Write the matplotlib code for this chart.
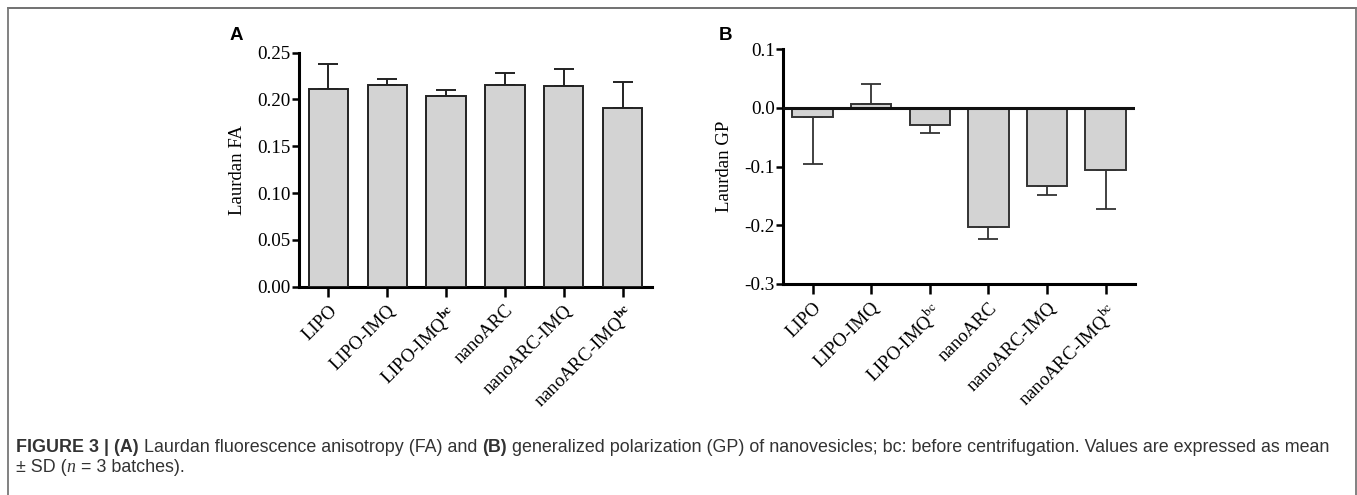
import numpy as np
import matplotlib
matplotlib.use('Agg')
import matplotlib.pyplot as plt
from matplotlib.lines import Line2D

plt.rcParams['font.family'] = ['Liberation Serif', 'DejaVu Serif']
plt.rcParams['mathtext.fontset'] = 'stix'
plt.rcParams['axes.unicode_minus'] = False

# data
groups_a = ['LIPO', 'LIPO-IMQ', r'LIPO-IMQ$^{\mathbf{bc}}$', 'nanoARC',
            'nanoARC-IMQ', r'nanoARC-IMQ$^{\mathbf{bc}}$']
groups_b = ['LIPO', 'LIPO-IMQ', r'LIPO-IMQ$^{\mathrm{bc}}$', 'nanoARC',
            'nanoARC-IMQ', r'nanoARC-IMQ$^{\mathrm{bc}}$']
fa_mean = [0.211, 0.2155, 0.204, 0.216, 0.2148, 0.1906]
fa_sd = [0.027, 0.0065, 0.006, 0.012, 0.018, 0.0278]
gp_mean = [-0.0155, 0.006, -0.0296, -0.2026, -0.1335, -0.1068]
gp_sd = [0.080, 0.035, 0.013, 0.020, 0.0155, 0.065]

W, H = 1357, 495
fig = plt.figure(figsize=(W / 100, H / 100), dpi=100)

BAR_C = '#d3d3d3'
AX_LW = 2.2


def frame(left, top, right, bottom):
    return [left / W, 1 - bottom / H, (right - left) / W, (bottom - top) / H]


def style_axes(ax, ticks, fmt, ylabel, names):
    for s in ['top', 'right']:
        ax.spines[s].set_visible(False)
    for s in ['left', 'bottom']:
        ax.spines[s].set_linewidth(AX_LW)
    ax.set_xlim(-0.5, 5.5)
    ax.set_yticks(ticks)
    ax.set_yticklabels([fmt % t for t in ticks], fontsize=13.8)
    ax.set_xticks(range(len(names)))
    ax.set_xticklabels(names, rotation=45, ha='right', va='top',
                       rotation_mode='anchor', fontsize=13.5)
    ax.tick_params(axis='y', length=5, width=1.8, pad=1)
    ax.tick_params(axis='x', length=7, width=1.8, pad=4)
    ax.set_ylabel(ylabel, fontsize=13.5, labelpad=8)


x = np.arange(len(groups_a))

# panel A
ax1 = fig.add_axes(frame(299, 52.7, 652, 286.7))
ax1.bar(x, fa_mean, width=0.67, color=BAR_C, edgecolor='#222222',
        linewidth=1.4, zorder=3)
ax1.errorbar(x, fa_mean, yerr=[np.zeros(len(x)), fa_sd], fmt='none',
             ecolor='#222222', elinewidth=1.4, capsize=7.5, capthick=1.4,
             zorder=2)
ax1.set_ylim(0, 0.25)
style_axes(ax1, [0, 0.05, 0.10, 0.15, 0.20, 0.25], '%.2f', 'Laurdan FA', groups_a)

# panel B
ax2 = fig.add_axes(frame(783.3, 49, 1135, 284))
gp_lo = [s if m < 0 else 0 for m, s in zip(gp_mean, gp_sd)]
gp_hi = [s if m >= 0 else 0 for m, s in zip(gp_mean, gp_sd)]
ax2.bar(x, gp_mean, width=0.69, color=BAR_C, edgecolor='#333333',
        linewidth=1.4, zorder=3)
ax2.errorbar(x, gp_mean, yerr=[gp_lo, gp_hi], fmt='none',
             ecolor='#333333', elinewidth=1.3, capsize=7.5, capthick=1.3,
             zorder=2)
ax2.axhline(0, color='#111111', linewidth=AX_LW, zorder=4)
ax2.set_ylim(-0.3, 0.1)
style_axes(ax2, [-0.3, -0.2, -0.1, 0.0, 0.1], '%.1f', 'Laurdan GP', groups_b)

fig.text(236.7 / W, 1 - 35 / H, 'A', family='Liberation Sans',
         fontweight='bold', fontsize=13.5, ha='center', va='center')
fig.text(725 / W, 1 - 35 / H, 'B', family='Liberation Sans',
         fontweight='bold', fontsize=13.5, ha='center', va='center')

# border around the figure panel
fig.add_artist(Line2D([8 / W, 1356 / W], [1 - 8 / H, 1 - 8 / H], color='#666666',
                      linewidth=1.3, transform=fig.transFigure))
fig.add_artist(Line2D([8 / W, 8 / W], [0, 1 - 8 / H], color='#777777',
                      linewidth=1.3, transform=fig.transFigure))
fig.add_artist(Line2D([1356 / W, 1356 / W], [0, 1 - 8 / H], color='#777777',
                      linewidth=1.3, transform=fig.transFigure))

# caption with mixed weights
renderer = fig.canvas.get_renderer()
CAP = 12.9
CAP_C = '#333333'


def caption_line(y_px, pieces):
    xp = 16
    for txt, kw in pieces:
        t = fig.text(xp / W, 1 - y_px / H, txt, fontsize=CAP, color=CAP_C,
                     va='center', ha='left', **kw)
        xp += t.get_window_extent(renderer).width


sans = {'family': 'Liberation Sans'}
bold = {'family': 'Liberation Sans', 'fontweight': 'bold'}
caption_line(448, [
    ('FIGURE 3 | (A)', bold),
    (' Laurdan fluorescence anisotropy (FA) and ', sans),
    ('(B)', bold),
    (' generalized polarization (GP) of nanovesicles; bc: before '
     'centrifugation. Values are expressed as mean', sans),
])
caption_line(467.5, [
    ('± SD (', sans),
    ('n', {'family': 'Liberation Serif', 'style': 'italic'}),
    (' = 3 batches).', sans),
])

fig.savefig('out.png', dpi=100)
